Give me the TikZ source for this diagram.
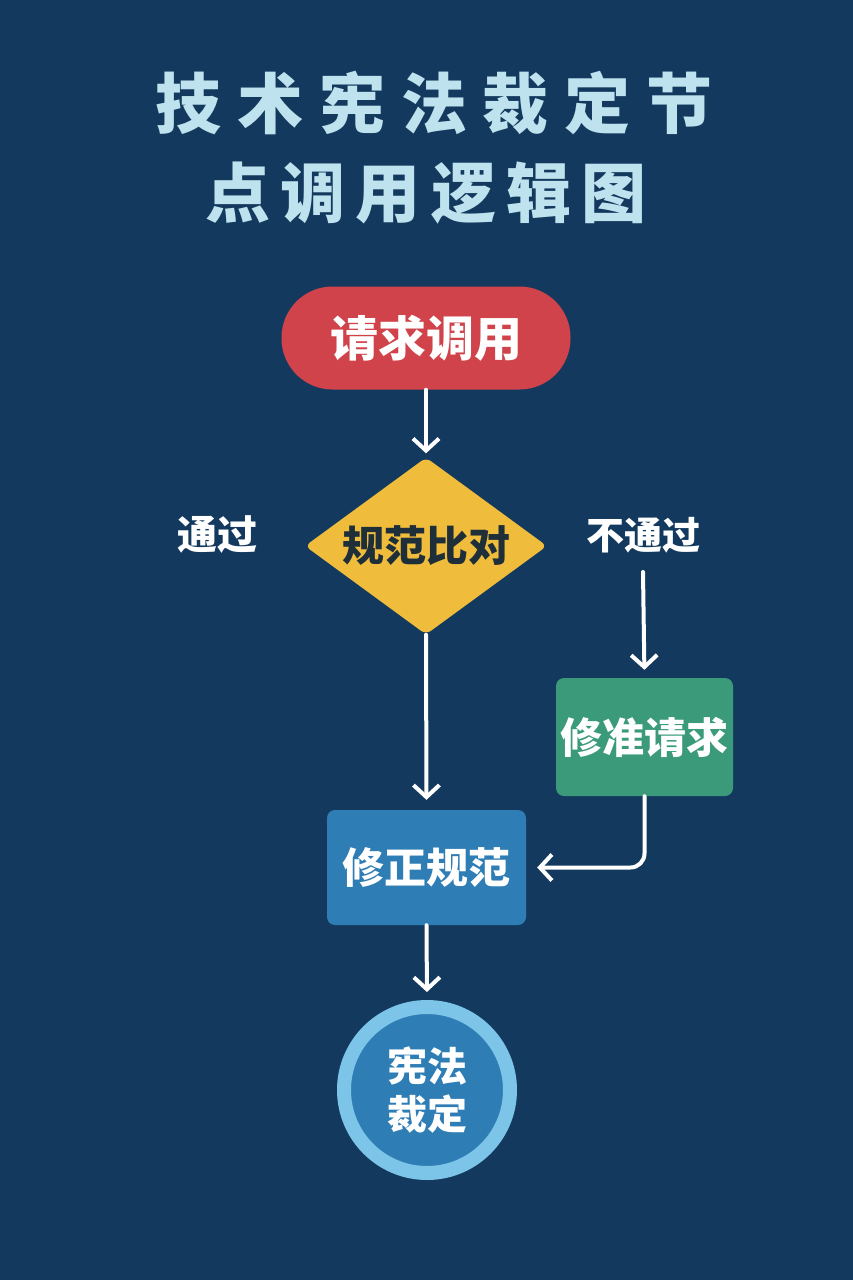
\documentclass[tikz,border=0pt]{standalone}
\usepackage{fontspec}
\usetikzlibrary{shapes.geometric,arrows.meta}
\newfontfamily\cjk{Noto Sans CJK SC}
\newfontfamily\cjkt{Noto Sans CJK SC}[LetterSpace=16]
\newfontfamily\cjktw{Noto Sans CJK SC}[LetterSpace=24]
\definecolor{bg}{HTML}{133A5E}
\definecolor{titlec}{HTML}{BFE3EE}
\definecolor{redc}{HTML}{D0434A}
\definecolor{yelc}{HTML}{F0BC3C}
\definecolor{txtdark}{HTML}{1E2F3A}
\definecolor{greenc}{HTML}{3A9A7A}
\definecolor{bluec}{HTML}{2F7DB5}
\definecolor{ringc}{HTML}{7CC5E8}
\tikzset{
  lbl/.style={font=\cjk\bfseries\fontsize{42}{48}\selectfont, text=white},
  conn/.style={draw=white, line width=4pt, line cap=round,
    -{Straight Barb[length=12pt,width=26pt,line width=4pt]}},
  boxst/.style={rectangle, rounded corners=8pt, inner sep=0pt, lbl}
}
\begin{document}
\begin{tikzpicture}[x=1pt,y=-1pt]
\fill[bg] (0,0) rectangle (853,1280);
\useasboundingbox (0,0) rectangle (853,1280);
% title
\node[font=\cjktw\bfseries\fontsize{66}{70}\selectfont, text=titlec] (t1) at (434,103) {技术宪法裁定节};
\node[font=\cjkt\bfseries\fontsize{65}{70}\selectfont, text=titlec] (t2) at (426,193) {点调用逻辑图};
% nodes
\node[boxst, fill=redc, rounded corners=51pt, minimum width=289pt, minimum height=103pt, font=\cjk\bfseries\fontsize{48}{54}\selectfont] (req) at (426,338) {请求调用};
\node[diamond, aspect=1.37, fill=yelc, rounded corners=6pt, inner sep=0pt, minimum width=242pt, minimum height=177pt, lbl, text=txtdark] (cmp) at (426,546) {规范比对};
\node[lbl, font=\cjk\bfseries\fontsize{40}{46}\selectfont] (pass) at (217,535) {通过};
\node[lbl, font=\cjk\bfseries\fontsize{38}{44}\selectfont] (nopass) at (643,535) {不通过};
\coordinate (nstart) at (643,572);
\node[boxst, fill=greenc, minimum width=177pt, minimum height=118pt] (fixreq) at (644.5,737) {修准请求};
\node[boxst, fill=bluec, minimum width=199pt, minimum height=115pt] (fixnorm) at (426.5,867.5) {修正规范};
\node[circle, fill=bluec, draw=ringc, line width=14pt, minimum size=166pt, inner sep=0pt, align=center, lbl, font=\cjk\bfseries\fontsize{40}{48}\selectfont] (judge) at (427,1090) {宪法\\裁定};
% connectors
\draw[conn, shorten >=4pt] (req.south) -- (cmp.north);
\draw[conn, shorten >=10pt] (cmp.south) -- (fixnorm.north);
\draw[conn, shorten >=8pt] (nstart) -- (fixreq.north);
\draw[conn, rounded corners=14pt, shorten >=11pt] (fixreq.south) |- (fixnorm.east);
\draw[conn, shorten >=8pt] (fixnorm.south) -- (judge.north);
\end{tikzpicture}
\end{document}
